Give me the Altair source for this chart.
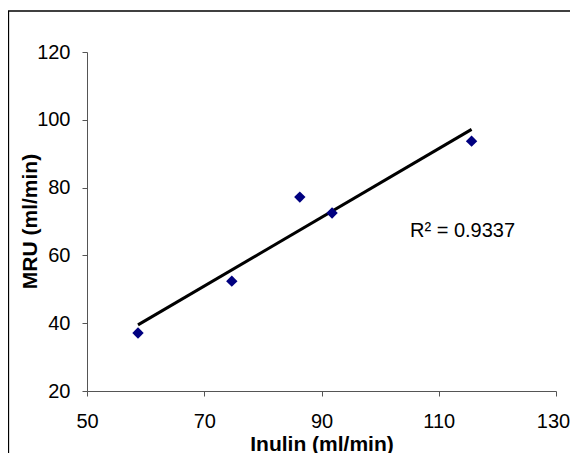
import altair as alt
import pandas as pd

inulin = [58.7, 74.7, 86.3, 91.8, 115.6]
mru = [37.1, 52.4, 77.2, 72.5, 93.7]
x_ticks = [50, 70, 90, 110, 130]
y_ticks = [20, 40, 60, 80, 100, 120]
r2_label = ["R² = 0.9337"]

df = pd.DataFrame({"Inulin": inulin, "MRU": mru})
FONT = "Liberation Sans"

xs = alt.Scale(domain=[50, 130], nice=False, zero=False)
ys = alt.Scale(domain=[20, 120], nice=False, zero=False)

common = dict(grid=False, tickSize=5, labelFontSize=20, titleFontSize=21,
              titleFontWeight="bold", labelFont=FONT, titleFont=FONT,
              domainColor="#555", tickColor="#555", labelColor="black",
              titleColor="black", labelFlush=False)

xenc = alt.X("Inulin:Q", scale=xs, title="Inulin (ml/min)",
             axis=alt.Axis(values=x_ticks, labelPadding=15, titleY=59,
                           titleBaseline="alphabetic",
                           labelOffset={"condition": {"test": "datum.value == 130", "value": -3}, "value": 0},
                           **common))
yenc = alt.Y("MRU:Q", scale=ys, title="MRU (ml/min)",
             axis=alt.Axis(values=y_ticks, labelPadding=12, titleX=-51, titleY=169,
                           titleAngle=-90, titleBaseline="alphabetic",
                           titleAlign="center", **common))

frame = pd.DataFrame({"a": [0]})
border_left = alt.Chart(frame).mark_rule(color="black", strokeWidth=1.3, clip=False).encode(
    x=alt.value(-78.5), y=alt.value(-41), y2=alt.value(420))
border_top = alt.Chart(frame).mark_rule(color="black", strokeWidth=1.3, clip=False).encode(
    x=alt.value(-79), x2=alt.value(500), y=alt.value(-41))

points = alt.Chart(df).mark_point(
    shape="diamond", filled=True, color="#000080", size=130, opacity=1
).encode(x=xenc, y=yenc)

trend = alt.Chart(df).transform_regression("Inulin", "MRU").mark_line(
    color="black", strokeWidth=3
).encode(x=alt.X("Inulin:Q", scale=xs), y=alt.Y("MRU:Q", scale=ys))

label = alt.Chart(pd.DataFrame({"t": r2_label})).mark_text(
    align="left", baseline="alphabetic", fontSize=20, font=FONT, color="black"
).encode(text="t:N", x=alt.value(323), y=alt.value(185))

chart = alt.layer(border_left, border_top, trend, points, label).properties(
    width=469, height=339,
    autosize=alt.AutoSizeParams(type="none"),
    padding={"left": 79, "top": 44, "right": 14, "bottom": 62},
).configure_view(stroke=None)

chart.save("out.html", embed_options={"renderer": "svg", "actions": False})
